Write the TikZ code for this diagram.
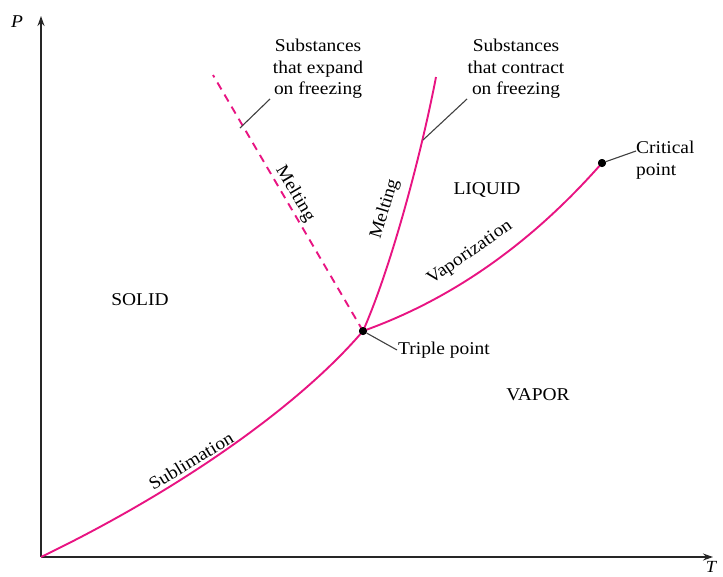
\documentclass[tikz,border=0pt]{standalone}
\usepackage{fontspec}
\setmainfont{Liberation Serif}[FakeStretch=1.08]
\usetikzlibrary{arrows.meta}
\definecolor{curve}{RGB}{232,20,130}
\begin{document}
\begin{tikzpicture}[x=1pt,y=-1pt,
  axis/.style={draw=black!85,line width=1.5pt,-{Stealth[length=10pt,width=7pt]}},
  phase/.style={draw=curve,line width=1.9pt},
  leader/.style={draw=black!75,line width=1.1pt},
  dot/.style={circle,fill=black,inner sep=0pt,minimum size=8pt},
  lbl/.style={font=\fontsize{18}{21.5}\selectfont,inner sep=1pt},
  curvelbl/.style={font=\fontsize{18}{20}\selectfont,inner sep=0.5pt}]
\useasboundingbox (0,0) rectangle (723,576);
\coordinate (O) at (41,557);
\coordinate (Ptop) at (41,16);
\coordinate (Tend) at (713,557);
\draw[axis] (O) -- (Ptop);
\draw[axis] (O) -- (Tend);
\node[lbl,font=\fontsize{18}{20}\selectfont\itshape] (P) at (17,22) {P};
\node[lbl,font=\fontsize{17}{19}\selectfont\itshape,anchor=north,inner sep=0pt] (T) at (711,561) {T};

\node[dot] (tp) at (363,331) {};
\node[dot] (cp) at (602,163) {};
\coordinate (mtop) at (436,77);
\coordinate (dtop) at (213,75);

% curves
\draw[phase] (O) .. controls (180,490) and (300,405) .. (tp.center);
\draw[phase] (tp.center) .. controls (450,300) and (530,245) .. (cp.center);
\draw[phase] (tp.center) .. controls (390,270) and (420,160) .. (mtop);
\draw[phase,dash pattern=on 8pt off 6pt] (tp.center) -- (dtop);
\node[dot] at (tp) {};
\node[dot] at (cp) {};

% labels
\node[lbl,align=center] (expand) at (318,69) {Substances\\that expand\\on freezing};
\node[lbl,align=center] (contract) at (516,69) {Substances\\that contract\\on freezing};
\node[lbl,align=left,anchor=west] (crit) at (635,160) {Critical\\point};
\node[lbl,anchor=west] (triple) at (397,350) {Triple point};
\coordinate (e1) at (240,128);
\coordinate (c1) at (423,140);
\draw[leader] (e1) -- (270,99);
\draw[leader] (c1) -- (467,99);
\draw[leader] (tp) -- (triple.west);
\draw[leader] (cp) -- (636,151);

\node[lbl] (liq) at (487,190) {LIQUID};
\node[lbl] (sol) at (140,300) {SOLID};
\node[lbl] (vap) at (538,395) {VAPOR};

\node[curvelbl,rotate=-59.5] (m1) at (295,194) {Melting};
\node[curvelbl,rotate=73] (m2) at (385,209) {Melting};
\node[curvelbl,rotate=35] (vz) at (470,253) {Vaporization};
\node[curvelbl,rotate=31] (sb) at (191,461) {Sublimation};
\end{tikzpicture}
\end{document}
